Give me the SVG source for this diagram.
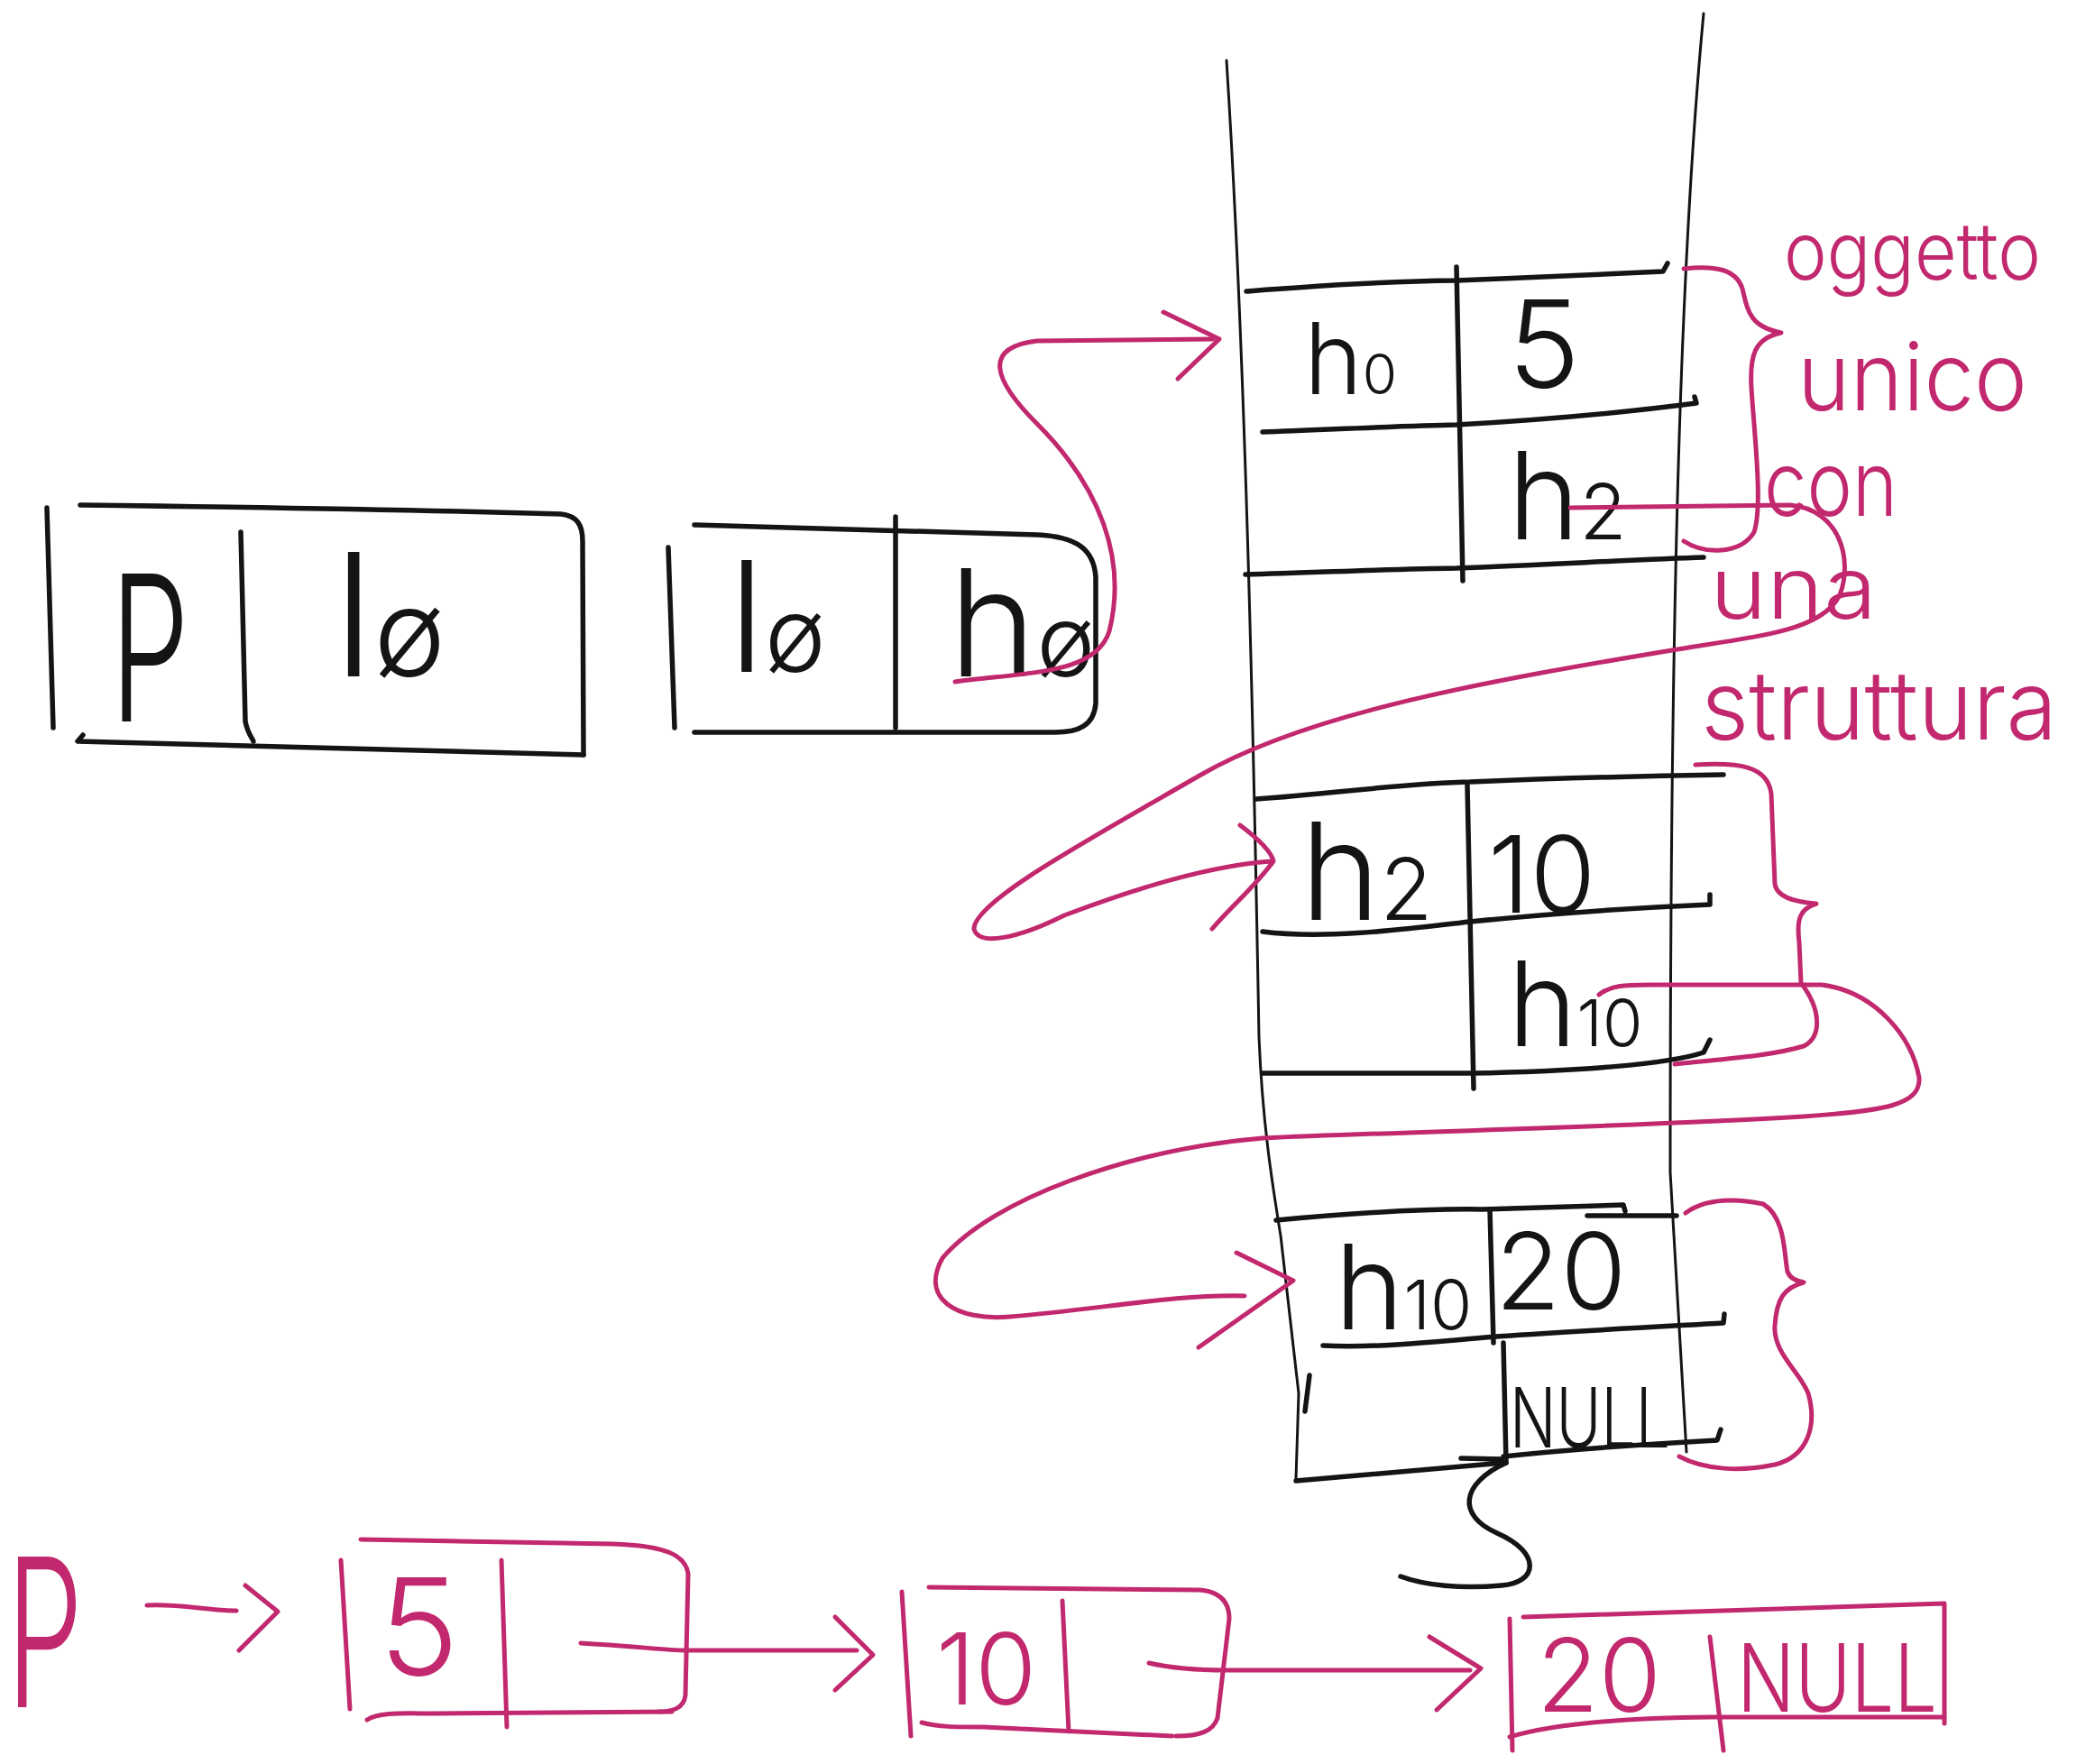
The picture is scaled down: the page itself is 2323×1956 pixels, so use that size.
<svg xmlns="http://www.w3.org/2000/svg" width="2323" height="1956" viewBox="0 0 2323 1956">
<style>
.bk{fill:none;stroke:#141414;stroke-width:5.5;stroke-linecap:round;stroke-linejoin:round}
.bt{fill:none;stroke:#141414;stroke-width:3;stroke-linecap:round;stroke-linejoin:round}
.pk{fill:none;stroke:#c2286e;stroke-width:5;stroke-linecap:round;stroke-linejoin:round}
.tb{fill:#141414;font-family:Inter,"Liberation Sans",Arial,sans-serif;font-weight:300}
.tp{fill:#c2286e;font-family:Inter,"Liberation Sans",Arial,sans-serif;font-weight:300}
</style>
<rect width="2323" height="1956" fill="#ffffff"/>

<g id="stack">
<path class="bt" d="M1360,67 C1378,350 1388,700 1396,1150 C1400,1250 1412,1320 1420,1370 L1440,1545 L1437,1640"/>
<path class="bt" d="M1889,15 C1862,300 1852,700 1852,1300 L1870,1610"/>
</g>

<g id="box-p">
<path class="bk" d="M52,563 L59,807"/>
<path class="bk" d="M89,560 C250,562 450,565 622,570 C640,572 646,582 646,600 L647,837"/>
<path class="bk" d="M92,815 L86,822 C300,826 500,832 647,837"/>
<path class="bk" d="M267,590 L272,800 C275,815 281,820 281,822"/>
<text class="tb" x="122" y="800" font-size="225" textLength="88" lengthAdjust="spacingAndGlyphs">P</text>
<text class="tb" x="370" y="750" font-size="190">l<tspan font-size="135">ø</tspan></text>
</g>

<g id="box-lh">
<path class="bk" d="M741,607 L748,807"/>
<path class="bk" d="M770,582 L1150,593 C1195,595 1213,610 1215,640 L1215,780 C1213,805 1195,812 1170,812 L770,812"/>
<path class="bk" d="M993,573 L993,807"/>
<text class="tb" x="808" y="745" font-size="170">l<tspan font-size="115">ø</tspan></text>
<text class="tb" x="1052" y="750" font-size="165">h<tspan font-size="110">ø</tspan></text>
</g>

<g id="node-h0">
<path class="bk" d="M1382,323 C1450,318 1530,312 1615,311 C1700,308 1800,303 1844,301 L1849,292"/>
<path class="bk" d="M1400,479 C1480,476 1560,472 1615,471 C1720,465 1820,455 1881,447 L1879,440"/>
<path class="bk" d="M1381,637 C1460,635 1540,631 1615,630 C1720,626 1820,620 1889,618"/>
<path class="bk" d="M1615,296 L1622,644"/>
<text class="tb" x="1446" y="437" font-size="110">h<tspan font-size="62">0</tspan></text>
<text class="tb" x="1672" y="430" font-size="135">5</text>
<text class="tb" x="1672" y="598" font-size="135">h<tspan font-size="85">2</tspan></text>
</g>

<g id="node-h2">
<path class="bk" d="M1393,886 C1480,880 1560,868 1630,867 C1750,862 1850,860 1911,859"/>
<path class="bk" d="M1400,1033 C1470,1042 1560,1030 1630,1022 C1750,1010 1850,1005 1896,1003 L1896,992"/>
<path class="bk" d="M1400,1190 L1630,1190 C1750,1188 1850,1180 1889,1167 L1896,1153"/>
<path class="bk" d="M1627,871 L1634,1207"/>
<text class="tb" x="1442" y="1020" font-size="150">h<tspan font-size="95">2</tspan></text>
<text class="tb" x="1650" y="1012" font-size="118">10</text>
<text class="tb" x="1672" y="1160" font-size="130">h<tspan font-size="72">10</tspan></text>
</g>

<g id="node-h10">
<path class="bk" d="M1415,1353 C1500,1345 1580,1340 1644,1341 L1800,1336 L1802,1343 M1760,1348 L1859,1348"/>
<path class="bk" d="M1467,1492 C1530,1495 1600,1487 1659,1482 C1760,1475 1860,1470 1911,1467 L1912,1457"/>
<path class="bk" d="M1667,1615 C1760,1605 1850,1600 1904,1597 L1908,1585"/>
<path class="bk" d="M1437,1642 L1667,1622 M1620,1617 L1667,1618"/>
<path class="bk" d="M1652,1341 L1656,1489"/>
<path class="bk" d="M1667,1489 L1670,1622"/>
<path class="bk" d="M1452,1525 L1447,1565"/>
<path class="bk" d="M1670,1622 C1620,1645 1615,1680 1660,1700 C1710,1722 1705,1755 1665,1758 C1620,1762 1580,1758 1553,1748"/>
<text class="tb" x="1480" y="1474" font-size="130">h<tspan font-size="75">10</tspan></text>
<text class="tb" x="1658" y="1452" font-size="118">20</text>
<text class="tb" x="1674" y="1605" font-size="92" textLength="178" lengthAdjust="spacingAndGlyphs">NULL</text>
</g>

<g id="note">
<text class="tp" x="1978" y="310" font-size="88" textLength="285" lengthAdjust="spacingAndGlyphs">oggetto</text>
<text class="tp" x="1993" y="455" font-size="105" textLength="255" lengthAdjust="spacingAndGlyphs">unico</text>
<text class="tp" x="1956" y="572" font-size="100" textLength="148" lengthAdjust="spacingAndGlyphs">con</text>
<text class="tp" x="1896" y="686" font-size="95" textLength="185" lengthAdjust="spacingAndGlyphs">una</text>
<text class="tp" x="1886" y="820" font-size="106" textLength="395" lengthAdjust="spacingAndGlyphs">struttura</text>
</g>

<g id="list-p">
<text class="tp" x="7" y="1893" font-size="230" textLength="85" lengthAdjust="spacingAndGlyphs">P</text>
</g>
<g id="list-n5">
<path class="pk" d="M378,1730 L388,1895"/>
<path class="pk" d="M400,1707 L680,1712 C740,1714 760,1725 763,1745 L760,1880 C758,1895 745,1898 730,1898"/>
<path class="pk" d="M407,1907 C420,1898 450,1900 480,1900 L745,1898"/>
<path class="pk" d="M556,1730 L562,1915"/>
<text class="tp" x="420" y="1858" font-size="150">5</text>
</g>
<g id="list-n10">
<path class="pk" d="M1000,1765 L1010,1925"/>
<path class="pk" d="M1030,1760 L1330,1763 C1355,1765 1363,1778 1363,1795 L1350,1905 C1345,1920 1330,1925 1304,1925"/>
<path class="pk" d="M1022,1910 C1040,1915 1060,1915 1090,1915 L1300,1925"/>
<path class="pk" d="M1178,1775 L1185,1920"/>
<text class="tp" x="1038" y="1890" font-size="110">10</text>
</g>
<g id="list-n20">
<path class="pk" d="M1674,1795 L1677,1941"/>
<path class="pk" d="M1689,1793 L2156,1778 L2156,1911"/>
<path class="pk" d="M1674,1926 C1720,1912 1800,1905 1896,1904 L2156,1904"/>
<path class="pk" d="M1896,1815 L1911,1941"/>
<text class="tp" x="1704" y="1898" font-size="112">20</text>
<text class="tp" x="1926" y="1898" font-size="105" textLength="222" lengthAdjust="spacingAndGlyphs">NULL</text>
</g>

<g id="connectors">
<path class="pk" d="M1059,756 C1140,745 1215,748 1230,700 C1250,620 1220,540 1150,470 C1100,420 1090,385 1150,378 L1345,376"/>
<path class="pk" d="M1290,346 L1352,376 L1306,420"/>
<path class="pk" d="M1741,563 L1985,560 C2040,565 2055,620 2040,660 C2020,700 1950,705 1860,720 C1650,755 1450,790 1330,860 C1200,935 1080,1000 1080,1030 C1085,1050 1130,1040 1180,1015 C1260,985 1340,960 1410,955"/>
<path class="pk" d="M1375,915 C1395,930 1410,945 1412,955 C1390,985 1365,1005 1344,1030"/>
<path class="pk" d="M1773,1103 C1785,1093 1800,1092 1830,1092 L2020,1092 C2080,1100 2120,1150 2128,1195 C2130,1225 2090,1232 2000,1238 C1800,1250 1550,1255 1400,1262 C1250,1275 1100,1330 1045,1395 C1020,1440 1060,1465 1120,1460 C1220,1452 1300,1435 1380,1437"/>
<path class="pk" d="M1371,1389 L1434,1420 L1329,1494"/>
<path class="pk" d="M1867,298 C1900,294 1925,298 1932,320 C1938,345 1940,362 1975,369 C1945,375 1940,395 1942,430 C1945,480 1955,560 1945,590 C1930,615 1890,615 1867,600"/>
<path class="pk" d="M1880,848 C1930,845 1960,850 1964,880 L1968,980 C1970,995 1990,1000 2014,1002 C1995,1008 1992,1020 1995,1045 L1997,1090 C2020,1120 2020,1150 2000,1160 C1960,1172 1900,1175 1857,1180"/>
<path class="pk" d="M1869,1345 C1890,1330 1920,1328 1955,1335 C1980,1350 1978,1390 1982,1410 C1985,1418 1992,1420 2000,1422 C1978,1428 1970,1440 1968,1470 C1966,1500 1995,1520 2005,1545 C2015,1580 2005,1615 1968,1624 C1930,1632 1890,1630 1862,1615"/>
<path class="pk" d="M163,1780 C200,1778 230,1786 262,1786"/>
<path class="pk" d="M272,1758 L308,1787 L265,1830"/>
<path class="pk" d="M644,1822 C700,1825 740,1830 760,1830 L950,1830"/>
<path class="pk" d="M926,1793 L968,1835 L926,1874"/>
<path class="pk" d="M1274,1844 C1300,1850 1330,1852 1360,1852 L1630,1852"/>
<path class="pk" d="M1585,1815 L1642,1850 L1593,1896"/>
</g>
</svg>
